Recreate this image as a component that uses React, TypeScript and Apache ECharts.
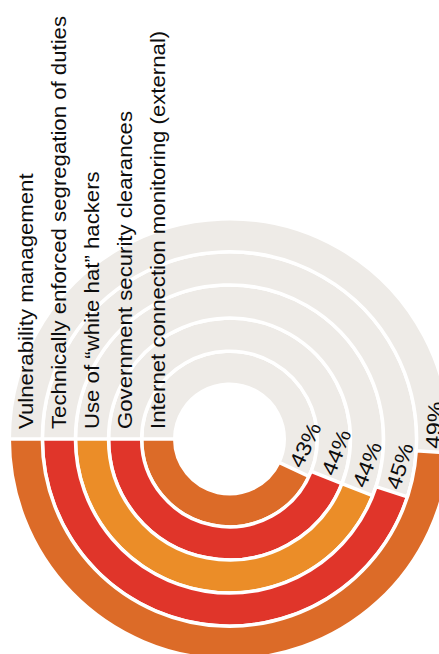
import React, { useEffect, useRef } from 'react';
import * as echarts from 'echarts';

// Rings listed from the innermost to the outermost
const categories = [
  'Internet connection monitoring (external)',
  'Government security clearances',
  'Use of \u201cwhite hat\u201d hackers',
  'Technically enforced segregation of duties',
  'Vulnerability management',
];
const values = [43, 44, 44, 45, 49];
const valueLabels = ['43%', '44%', '44%', '45%', '49%'];
const colors = ['#dc6b28', '#e0352a', '#eb8d28', '#e0352a', '#dc6b28'];

const GREY = '#eeebe7';
const FONT = '"Liberation Sans", Arial, Helvetica, sans-serif';

export default function App() {
  const ref = useRef<HTMLDivElement>(null);
  useEffect(() => {
    document.body.style.margin = '0';
    const chart = echarts.init(ref.current!, undefined, { renderer: 'svg' });
    const option: any = {
      animation: false,
      polar: { center: [229.5, 439], radius: [54.75, 220.25] },
      angleAxis: {
        type: 'value', min: 0, max: 100, startAngle: 180, clockwise: false, show: false,
      },
      radiusAxis: { type: 'category', data: categories, show: false },
      series: [
        {
          type: 'bar',
          coordinateSystem: 'polar',
          silent: true,
          barCategoryGap: '0%',
          data: values.map((v, i) => ({ value: v, itemStyle: { color: colors[i] } })),
          itemStyle: { borderColor: '#ffffff', borderWidth: 3.5 },
          showBackground: true,
          backgroundStyle: { color: GREY, borderColor: '#ffffff', borderWidth: 3.5 },
          z: 2,
        },
        {
          type: 'custom',
          coordinateSystem: 'polar',
          silent: true,
          z: 5,
          data: categories.map((c, i) => [i, 0]),
          renderItem: (params: any, api: any) => {
            const pt = api.coord([api.value(0), 0]);
            return {
              type: 'text',
              x: pt[0],
              y: pt[1] - 10,
              rotation: Math.PI / 2,
              scaleX: 1.11,
              style: {
                text: categories[params.dataIndex],
                x: 0,
                y: 0,
                align: 'left',
                verticalAlign: 'middle',
                fill: '#0d0d0d',
                fontSize: 20,
                fontFamily: FONT,
              },
            };
          },
        },
        {
          type: 'custom',
          coordinateSystem: 'polar',
          silent: true,
          z: 5,
          data: values.map((v, i) => [i, v]),
          renderItem: (params: any, api: any) => {
            const pt = api.coord([api.value(0), api.value(1)]);
            const cx = params.coordSys.cx;
            const cy = params.coordSys.cy;
            const a = Math.atan2(-(pt[1] - cy), pt[0] - cx);
            return {
              type: 'text',
              x: pt[0],
              y: pt[1],
              rotation: a + Math.PI / 2,
              scaleX: 1.12,
              style: {
                text: valueLabels[params.dataIndex],
                x: 3,
                y: 0,
                align: 'left',
                verticalAlign: 'middle',
                fill: '#0d0d0d',
                fontSize: 21,
                fontFamily: FONT,
              },
            };
          },
        },
      ],
    };
    chart.setOption(option);
    return () => chart.dispose();
  }, []);
  return <div ref={ref} style={{ width: 439, height: 654 }} />;
}
